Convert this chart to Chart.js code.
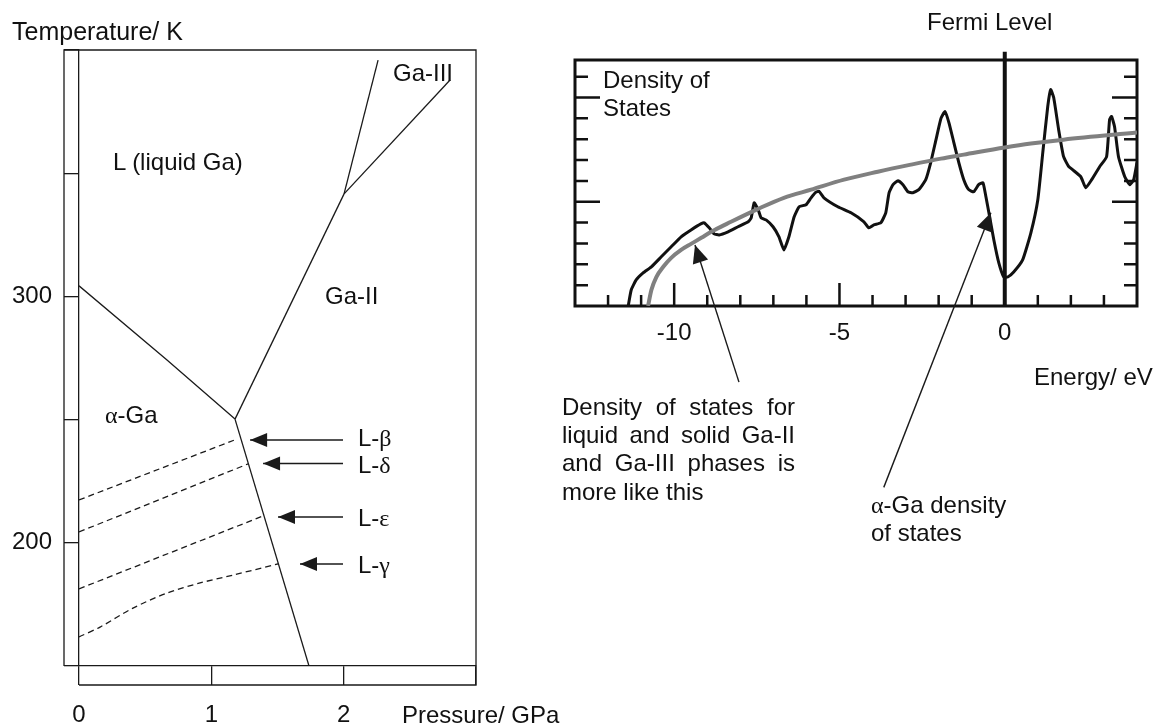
<!DOCTYPE html>
<html>
<head>
<meta charset="utf-8">
<script src="https://cdn.jsdelivr.net/npm/chart.js@4.4.1/dist/chart.umd.min.js"></script>
<style>
body{margin:0;background:#fff;width:1158px;height:728px;position:relative;overflow:hidden;font-family:'Liberation Sans',Arial,sans-serif;color:#111}
canvas{position:absolute;top:0}
#phase{left:0}
#dos{left:560px}
.t{position:absolute;font-size:24px;line-height:28px;white-space:nowrap}
.g{font-family:'Liberation Serif','Times New Roman',serif}
.j{text-align:justify;text-align-last:justify;width:233px;white-space:normal}
</style>
</head>
<body>
<canvas id="phase" width="560" height="728"></canvas>
<canvas id="dos" width="598" height="728"></canvas>

<div class="t" style="left:12px;top:17px;font-size:25px">Temperature/ K</div>
<div class="t" style="left:113px;top:148px">L (liquid Ga)</div>
<div class="t" style="left:393px;top:59px">Ga-III</div>
<div class="t" style="left:325px;top:282px">Ga-II</div>
<div class="t" style="left:105px;top:401px"><span class="g">α</span>-Ga</div>
<div class="t" style="left:358px;top:424px">L-<span class="g">β</span></div>
<div class="t" style="left:358px;top:451px">L-<span class="g">δ</span></div>
<div class="t" style="left:358px;top:504px">L-<span class="g">ε</span></div>
<div class="t" style="left:358px;top:551px">L-<span class="g">γ</span></div>
<div class="t" style="left:402px;top:701px">Pressure/ GPa</div>

<div class="t" style="left:927px;top:8px">Fermi Level</div>
<div class="t" style="left:603px;top:66px">Density of</div>
<div class="t" style="left:603px;top:94px">States</div>
<div class="t" style="left:1034px;top:363px">Energy/ eV</div>
<div class="t j" style="left:562px;top:393px">Density of states for</div>
<div class="t j" style="left:562px;top:421px">liquid and solid Ga-II</div>
<div class="t j" style="left:562px;top:449px">and Ga-III phases is</div>
<div class="t" style="left:562px;top:478px">more like this</div>
<div class="t" style="left:871px;top:491px"><span class="g">α</span>-Ga density</div>
<div class="t" style="left:871px;top:519px">of states</div>

<script>
/* phase diagram: pressure (GPa) vs temperature (K) */
const pressureTicks = [0, 1, 2, 3]
const pressureTickLabels = ['0', '1', '2', '']
const tempTicks = [150, 200, 250, 300, 350, 400]
const tempTickLabels = ['', '200', '', '300', '', '']

const alphaLiquidP = [0, 0.665, 1.179]
const alphaLiquidT = [304.3, 274.2, 250.2]
const alphaGa2P = [1.179, 1.738]
const alphaGa2T = [250.2, 150]
const liquidGa2P = [1.179, 2.003]
const liquidGa2T = [250.2, 341.6]
const liquidGa3P = [2.003, 2.26]
const liquidGa3T = [341.6, 395.9]
const ga2Ga3P = [2.003, 2.804]
const ga2Ga3T = [341.6, 387.8]

const betaP = [0, 1.194]
const betaT = [217.4, 242.1]
const deltaP = [0, 1.277]
const deltaT = [204.4, 232.0]
const epsP = [0, 1.391]
const epsT = [181.3, 210.9]
const gammaP = [0, 0.159, 0.408, 0.665, 0.915, 1.164, 1.504]
const gammaT = [161.8, 165.8, 173.5, 179.6, 183.7, 186.9, 191.4]

// label arrows, tail at the right, tip at the melting line
const arrowTailP = 1.995
const arrowTipP = [1.293, 1.391, 1.504, 1.670]
const arrowT = [241.7, 232.2, 210.5, 191.4]

/* density of states: energy (eV) vs DOS (arb.) */
const energyTicks = [-13, -12, -11, -10, -9, -8, -7, -6, -5, -4, -3, -2, -1, 0, 1, 2, 3, 4]
const energyTickLabels = ['', '', '', '-10', '', '', '', '', '-5', '', '', '', '', '0', '', '', '', '']
const energyMajor = [-10, -5]
const dosTicks = [1, 2, 3, 4, 5, 6, 7, 8, 9, 10, 11]
const dosMajor = [5, 10]

const freeE = [-10.79, -10.69, -10.54, -10.33, -10.09, -9.79, -9.49, -9.18, -8.88, -8.28, -7.46, -6.68, -5.86, -4.86, -3.84, -2.84, -1.93, -1.24, 0, 0.79, 1.78, 4.0]
const freeD = [0, 0.77, 1.39, 1.88, 2.31, 2.69, 2.98, 3.27, 3.56, 4.04, 4.66, 5.19, 5.58, 6.06, 6.44, 6.78, 7.07, 7.26, 7.6, 7.79, 7.98, 8.32]

const alphaE = [-11.39, -11.30, -11.15, -10.94, -10.69, -10.39, -10.09, -9.79, -9.49, -9.18, -9.09, -8.94, -8.79, -8.64, -8.37, -8.07, -7.76, -7.67, -7.58, -7.46, -7.37, -7.22, -7.01, -6.83, -6.68, -6.53, -6.37, -6.22, -6.01, -5.86, -5.72, -5.62, -5.47, -5.05, -4.65, -4.26, -4.11, -3.96, -3.75, -3.60, -3.50, -3.38, -3.23, -3.08, -2.93, -2.78, -2.60, -2.39, -2.24, -2.08, -1.93, -1.81, -1.69, -1.54, -1.39, -1.24, -1.09, -0.94, -0.79, -0.66, -0.57, -0.48, -0.33, -0.18, -0.03, 0.09, 0.27, 0.54, 0.79, 1.0, 1.15, 1.30, 1.39, 1.48, 1.63, 1.78, 1.93, 2.05, 2.30, 2.45, 2.63, 2.87, 3.08, 3.17, 3.23, 3.32, 3.44, 3.63, 3.78, 3.90, 4.0]
const alphaD = [0, 0.77, 1.25, 1.59, 1.88, 2.36, 2.84, 3.32, 3.65, 3.95, 3.99, 3.75, 3.46, 3.41, 3.56, 3.80, 4.04, 4.23, 4.95, 4.62, 4.23, 4.13, 3.80, 3.32, 2.69, 3.32, 4.28, 4.76, 4.86, 5.19, 5.45, 5.5, 5.19, 4.76, 4.47, 4.04, 3.75, 3.89, 3.99, 4.47, 5.43, 5.82, 6.01, 5.82, 5.48, 5.43, 5.58, 6.06, 6.88, 7.98, 9.0, 9.33, 8.80, 7.84, 6.88, 6.06, 5.58, 5.48, 5.82, 5.91, 5.24, 4.47, 3.17, 2.07, 1.39, 1.39, 1.63, 2.21, 3.51, 5.10, 7.36, 9.57, 10.38, 10.0, 8.46, 7.16, 6.7, 6.54, 6.20, 5.67, 6.06, 6.68, 7.16, 8.94, 9.09, 8.61, 7.16, 6.20, 5.82, 6.06, 6.88]

const fermiE = [0, 0]
const fermiD = [0, 12.2]
const arrowFreeE = [-8.04, -9.37]
const arrowFreeD = [-3.65, 2.93]
const arrowAlphaE = [-3.66, -0.42]
const arrowAlphaD = [-8.70, 4.47]

const INK = '#1a1a1a'
Chart.defaults.font.family = "'Liberation Sans', Arial, sans-serif"
Chart.defaults.font.size = 24
Chart.defaults.color = '#111'

function pts(xs, ys) {
  return xs.map((x, i) => ({x: x, y: ys[i]}))
}

function line(xs, ys, extra) {
  return Object.assign({
    data: pts(xs, ys),
    borderColor: INK,
    borderWidth: 1.3,
    pointRadius: 0,
    fill: false
  }, extra || {})
}

/* filled heads on the datasets flagged with arrowHead: [length, halfWidth] */
const arrowHeads = {
  id: 'arrowHeads',
  afterDatasetsDraw(chart) {
    const ctx = chart.ctx
    chart.data.datasets.forEach((ds, i) => {
      if (!ds.arrowHead) return
      const p = chart.getDatasetMeta(i).data
      const a = p[p.length - 2], b = p[p.length - 1]
      const ang = Math.atan2(b.y - a.y, b.x - a.x)
      ctx.save()
      ctx.translate(b.x, b.y)
      ctx.rotate(ang)
      ctx.beginPath()
      ctx.moveTo(0, 0)
      ctx.lineTo(-ds.arrowHead[0], -ds.arrowHead[1])
      ctx.lineTo(-ds.arrowHead[0], ds.arrowHead[1])
      ctx.closePath()
      ctx.fillStyle = ds.borderColor
      ctx.fill()
      ctx.restore()
    })
  }
}

/* outer edges of the strip-like axes */
const phaseFrame = {
  id: 'phaseFrame',
  afterDraw(chart) {
    const ctx = chart.ctx, a = chart.chartArea
    const yl = chart.options.scales.y.grid.tickLength
    const xl = chart.options.scales.x.grid.tickLength
    ctx.save()
    ctx.strokeStyle = INK
    ctx.lineWidth = 1.3
    ctx.beginPath()
    ctx.moveTo(a.left - yl, a.bottom)
    ctx.lineTo(a.left - yl, a.top)
    ctx.lineTo(a.right, a.top)
    ctx.lineTo(a.right, a.bottom + xl)
    ctx.lineTo(a.left, a.bottom + xl)
    ctx.stroke()
    ctx.restore()
  }
}

const phaseDatasets = [
  line(alphaLiquidP, alphaLiquidT),
  line(alphaGa2P, alphaGa2T),
  line(liquidGa2P, liquidGa2T),
  line(liquidGa3P, liquidGa3T),
  line(ga2Ga3P, ga2Ga3T),
  line(betaP, betaT, {borderDash: [6, 4]}),
  line(deltaP, deltaT, {borderDash: [6, 4]}),
  line(epsP, epsT, {borderDash: [6, 4]}),
  line(gammaP, gammaT, {borderDash: [6, 4], tension: 0.3})
]
arrowTipP.forEach((tip, i) => {
  phaseDatasets.push(line([arrowTailP, tip], [arrowT[i], arrowT[i]], {borderWidth: 1.6, arrowHead: [17, 7]}))
})

new Chart(document.getElementById('phase'), {
  type: 'line',
  data: {datasets: phaseDatasets},
  plugins: [arrowHeads, phaseFrame],
  options: {
    responsive: false,
    animation: false,
    layout: {padding: {left: 0, right: 84, top: 50, bottom: 0}},
    plugins: {legend: {display: false}, tooltip: {enabled: false}},
    scales: {
      x: {
        type: 'linear', min: 0, max: 3,
        afterBuildTicks: s => { s.ticks = pressureTicks.map(v => ({value: v})) },
        afterFit: s => { s.height = 62 },
        ticks: {callback: (v, i) => pressureTickLabels[i], padding: 16, maxRotation: 0, autoSkip: false},
        grid: {drawOnChartArea: false, tickLength: 19, color: INK, lineWidth: 1.3},
        border: {color: INK, width: 1.3}
      },
      y: {
        type: 'linear', min: 150, max: 400,
        afterBuildTicks: s => { s.ticks = tempTicks.map(v => ({value: v})) },
        afterFit: s => { s.width = 79 },
        ticks: {callback: (v, i) => tempTickLabels[i], padding: 12, autoSkip: false},
        grid: {drawOnChartArea: false, tickLength: 15, color: INK, lineWidth: 1.3},
        border: {color: INK, width: 1.3}
      }
    }
  }
})

/* box with inward ticks for the DOS panel */
const dosFrame = {
  id: 'dosFrame',
  beforeDatasetsDraw(chart) {
    const ctx = chart.ctx, a = chart.chartArea
    const x = chart.scales.x, y = chart.scales.y
    ctx.save()
    ctx.strokeStyle = '#111'
    ctx.lineWidth = 2.5
    ctx.beginPath()
    energyTicks.forEach(e => {
      if (e === 0 || e <= x.min || e >= x.max) return
      const px = x.getPixelForValue(e)
      const len = energyMajor.includes(e) ? 23 : 11
      ctx.moveTo(px, a.bottom)
      ctx.lineTo(px, a.bottom - len)
    })
    dosTicks.forEach(d => {
      const py = y.getPixelForValue(d)
      const len = dosMajor.includes(d) ? 25 : 13
      ctx.moveTo(a.left, py)
      ctx.lineTo(a.left + len, py)
      ctx.moveTo(a.right, py)
      ctx.lineTo(a.right - len, py)
    })
    ctx.stroke()
    ctx.lineWidth = 3
    ctx.strokeRect(a.left, a.top, a.right - a.left, a.bottom - a.top)
    ctx.restore()
  }
}

new Chart(document.getElementById('dos'), {
  type: 'line',
  data: {
    datasets: [
      line(freeE, freeD, {borderColor: '#808080', borderWidth: 4, cubicInterpolationMode: 'monotone'}),
      line(alphaE, alphaD, {borderColor: '#111', borderWidth: 3, tension: 0.15}),
      line(fermiE, fermiD, {borderColor: '#111', borderWidth: 4, clip: false}),
      line(arrowFreeE, arrowFreeD, {borderWidth: 1.4, clip: false, arrowHead: [18, 8]}),
      line(arrowAlphaE, arrowAlphaD, {borderWidth: 1.4, clip: false, arrowHead: [18, 8]})
    ]
  },
  plugins: [dosFrame, arrowHeads],
  options: {
    responsive: false,
    animation: false,
    layout: {padding: {left: 15, right: 21, top: 60, bottom: 382}},
    plugins: {legend: {display: false}, tooltip: {enabled: false}},
    scales: {
      x: {
        type: 'linear', min: -13, max: 4,
        afterBuildTicks: s => { s.ticks = energyTicks.map(v => ({value: v})) },
        afterFit: s => { s.height = 40 },
        ticks: {callback: (v, i) => energyTickLabels[i], padding: 13, maxRotation: 0, autoSkip: false},
        grid: {display: false, drawTicks: false},
        border: {display: false}
      },
      y: {type: 'linear', min: 0, max: 11.8, display: false}
    }
  }
})
</script>
</body>
</html>
